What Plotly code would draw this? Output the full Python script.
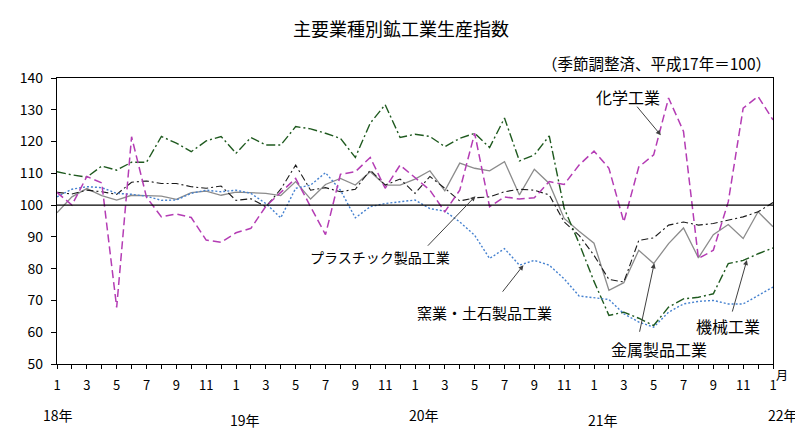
import plotly.graph_objects as go

# month index 0 = 2018/1 ... 48 = 2022/1
months = list(range(49))
tick_labels = ["1", "3", "5", "7", "9", "11"] * 4 + ["1"]

chem = [104, 100, 109, 107, 67.8, 121.5, 102.5, 96.3, 97.2, 96.1, 89, 88.3, 91.3,
        92.7, 99.6, 104, 108.4, 99.5, 90.7, 109.7, 110.5, 115, 105.3, 112.6, 108.5,
        104.7, 97.9, 104.7, 122.6, 99.5, 102.6, 101.9, 102.3, 107.4, 106.5, 112.6,
        117, 111.6, 94.7, 112, 115.8, 133.7, 123.2, 83.2, 85.8, 101, 130.5, 134.2, 126.8]

ceramic = [102.6, 105, 105.8, 105.5, 103.7, 103.4, 102.8, 101.5, 101.6, 103.7, 104.7,
           104.2, 104.7, 103.7, 100.5, 96, 105.3, 106.3, 110.2, 104.7, 96, 99.5, 100.5,
           101, 101.6, 98.9, 98.1, 94.7, 90.5, 83.2, 86.3, 81.1, 82.6, 81.1, 76.8, 71.4,
           70.8, 70.3, 65.8, 63.2, 61.6, 66.3, 68.9, 69.7, 70, 68.9, 68.9, 71.6, 74.2]

plastic = [104, 103.5, 104.7, 104.2, 103.4, 107.2, 107.6, 106.8, 106.8, 105.8, 105.3,
           106, 101.5, 102, 99.5, 105, 112.6, 104.7, 105.5, 104.2, 105, 111, 106.3,
           108.2, 103.7, 109, 105.3, 101.3, 102.3, 102.6, 104.2, 105, 104.7, 103.2, 94.7,
           90.5, 84.2, 76.6, 75.8, 88.9, 89.7, 93.7, 94.7, 93.7, 94.2, 95.3, 96.3, 97.9, 100.8]

metal = [97.6, 102.6, 105.2, 103, 101.6, 103.1, 103, 102.8, 101.8, 103.9, 104.4, 103.1,
         104.1, 104, 103.7, 103, 107.4, 101.9, 106.5, 108.4, 106.3, 110.5, 106.3, 106.3,
         108.2, 110.8, 104.5, 113.2, 111.6, 110.8, 113.7, 103.2, 111.3, 106.8, 95.8, 91.8,
         88, 73.2, 75.6, 85.8, 81.6, 87.9, 92.8, 83.4, 90.7, 93.9, 89.5, 97.9, 93.2]

machine = [110.5, 109.5, 108.8, 112.3, 111, 113.5, 113.5, 121.6, 119.5, 116.8, 120.2,
           121.6, 116.3, 121.3, 118.9, 118.9, 124.7, 124, 122.6, 121, 115, 125.8, 131.6,
           121.3, 122.3, 121.6, 118.4, 121, 122.6, 118.1, 127.4, 113.9, 115.8, 121.8, 99,
           88, 76, 65.3, 66.3, 64.4, 62.1, 67.9, 70.5, 71, 72.1, 81.6, 82.6, 84.7, 86.5]

FONT = "Noto Sans CJK JP"

fig = go.Figure()
fig.add_trace(go.Scatter(x=months, y=metal, mode="lines", name="金属製品工業",
                         line=dict(color="#8c8c8c", width=1.3)))
fig.add_trace(go.Scatter(x=months, y=machine, mode="lines", name="機械工業",
                         line=dict(color="#1f5a1f", width=1.4, dash="9px,3px,2px,3px")))
fig.add_trace(go.Scatter(x=months, y=plastic, mode="lines", name="プラスチック製品工業",
                         line=dict(color="#1a1a1a", width=1.1, dash="7px,3px,2px,3px")))
fig.add_trace(go.Scatter(x=months, y=ceramic, mode="lines", name="窯業・土石製品工業",
                         line=dict(color="#4682d0", width=1.4, dash="2px,2px")))
fig.add_trace(go.Scatter(x=months, y=chem, mode="lines", name="化学工業",
                         line=dict(color="#b43cb4", width=1.5, dash="8px,4px")))

fig.add_shape(type="line", xref="x", yref="y", x0=0, x1=48, y0=100, y1=100,
              line=dict(color="black", width=1.2))

tickvals = list(range(49))
ticktext = [tick_labels[i // 2] if i % 2 == 0 else "" for i in range(49)]

fig.update_xaxes(range=[0, 48], tickvals=tickvals, ticktext=ticktext,
                 showline=True, linecolor="black", linewidth=1.2, mirror=True,
                 ticks="outside", ticklen=4, tickcolor="black", showgrid=False,
                 zeroline=False, ticklabelstandoff=5,
                 tickfont=dict(family=FONT, size=13, color="black"))
fig.update_yaxes(range=[50, 140], dtick=10, showline=True, linecolor="black",
                 linewidth=1.2, mirror=True, ticks="outside", ticklen=5,
                 tickcolor="black", showgrid=False, zeroline=False,
                 ticklabelstandoff=5,
                 tickfont=dict(family=FONT, size=14, color="black"))

ann = []
def text_ann(x, y, t, size=16):
    ann.append(dict(x=x, y=y, xref="x", yref="y", text=t, showarrow=False,
                    xanchor="center", yanchor="middle",
                    font=dict(family=FONT, size=size, color="black")))

def arrow_ann(x, y, ax, ay):
    ann.append(dict(x=x, y=y, xref="x", yref="y", text="", showarrow=True,
                    ax=ax, ay=ay, arrowhead=2, arrowsize=1, arrowwidth=1,
                    arrowcolor="#404040", standoff=0))

text_ann(38.28, 134.0, "化学工業")
arrow_ann(40.48, 122.0, -25, -30)
text_ann(21.67, 83.8, "プラスチック製品工業", 14)
arrow_ann(28.05, 102.8, -49, 51)
text_ann(28.66, 66.2, "窯業・土石製品工業", 15)
arrow_ann(31.27, 81.1, -22, 28)
text_ann(40.35, 54.7, "金属製品工業")
arrow_ann(40.04, 81.7, -15, 70)
text_ann(44.97, 62.1, "機械工業")
arrow_ann(46.25, 82.7, -15, 53)

years = [("18年", 0.1, -0.178), ("19年", 12.6, -0.196), ("20年", 24.6, -0.178),
         ("21年", 36.6, -0.196), ("22年", 48.7, -0.178)]
for t, x, y in years:
    ann.append(dict(x=x / 48, y=y, xref="paper", yref="paper", text=t, showarrow=False,
                    xanchor="center", yanchor="middle",
                    font=dict(family=FONT, size=14, color="black")))
ann.append(dict(x=1.0125, y=-0.038, xref="paper", yref="paper", text="月", showarrow=False,
                xanchor="center", yanchor="middle",
                font=dict(family=FONT, size=12, color="black")))
ann.append(dict(x=1.0, y=1.052, xref="paper", yref="paper", xanchor="right",
                yanchor="middle",
                text="（季節調整済、平成17年＝100）", showarrow=False,
                font=dict(family=FONT, size=15.5, color="black")))

# page body has an 8px margin: offset the margins so the plot area lands at x 52-773, y 78-364
fig.update_layout(
    width=803, height=439, autosize=False,
    margin=dict(l=44, r=38, t=70, b=83),
    paper_bgcolor="white", plot_bgcolor="white",
    showlegend=False,
    title=dict(text="主要業種別鉱工業生産指数", x=(401 - 8) / 803, xanchor="center",
               y=1 - 22 / 439, yanchor="middle", yref="container",
               font=dict(family=FONT, size=18, color="black")),
    annotations=ann,
)

fig.write_html("out.html")
